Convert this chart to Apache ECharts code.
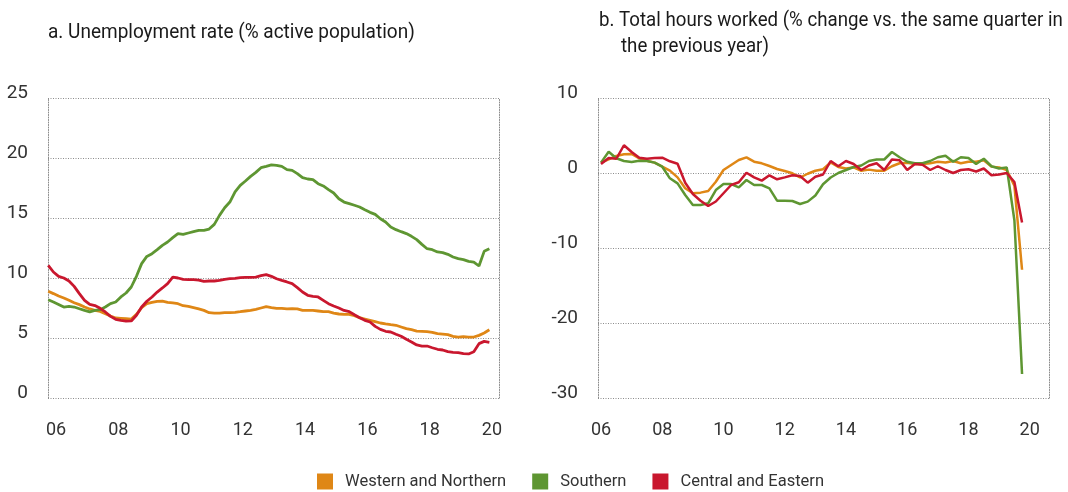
<!DOCTYPE html>
<html>
<head>
<meta charset="utf-8">
<title>Unemployment and hours worked</title>
<script src="https://cdn.jsdelivr.net/npm/echarts@6/dist/echarts.min.js"></script>
<style>
  html, body { margin: 0; padding: 0; background: #fff; }
  #chart { width: 1068px; height: 492px; }
</style>
</head>
<body>
<div id="chart"></div>
<script>
// series names
const seriesNames = ['Western and Northern', 'Southern', 'Central and Eastern']
const colors = ['#DF8716', '#5E9632', '#C9172E']

// a. unemployment rate, one reading every 2 months starting Oct 2005
const unempStart = 2005.75
const unempStep = 1 / 6
const unempWestNorth = [
  8.89, 8.7, 8.5, 8.33, 8.14, 7.94, 7.78, 7.58, 7.42, 7.3, 7.22, 7.03, 6.83, 6.67, 6.64,
  6.61, 6.58, 6.97, 7.53, 7.86, 7.97, 8.06, 8.08, 7.97, 7.92, 7.86, 7.69, 7.64, 7.53, 7.42,
  7.3, 7.11, 7.08, 7.08, 7.11, 7.11, 7.14, 7.19, 7.25, 7.3, 7.39, 7.5, 7.61, 7.53, 7.47,
  7.47, 7.42, 7.44, 7.42, 7.3, 7.3, 7.3, 7.25, 7.19, 7.19, 7.08, 7.0, 6.97, 6.97,
  6.86, 6.69, 6.58, 6.47, 6.36, 6.25, 6.17, 6.11, 6.06, 5.92, 5.78, 5.69, 5.58, 5.56,
  5.53, 5.47, 5.36, 5.33, 5.28, 5.14, 5.08, 5.11, 5.08, 5.08, 5.22, 5.42, 5.69
]
const unempSouth = [
  8.19, 8.0, 7.8, 7.58, 7.64, 7.58, 7.44, 7.3, 7.17, 7.3, 7.36, 7.58, 7.86, 8.0, 8.42,
  8.75, 9.25, 10.14, 11.2, 11.8, 12.03, 12.36, 12.72, 13.0, 13.36, 13.7, 13.64, 13.75, 13.86, 13.97,
  13.97, 14.08, 14.47, 15.22, 15.86, 16.33, 17.17, 17.72, 18.08, 18.47, 18.8, 19.19, 19.3, 19.42, 19.39,
  19.3, 19.03, 18.97, 18.7, 18.36, 18.25, 18.2, 17.86, 17.67, 17.36, 17.08, 16.6, 16.33, 16.2,
  16.06, 15.92, 15.69, 15.47, 15.3, 14.94, 14.67, 14.25, 14.03, 13.86, 13.7, 13.47, 13.2, 12.8,
  12.44, 12.36, 12.17, 12.11, 11.97, 11.75, 11.61, 11.53, 11.39, 11.33, 11.0, 12.22, 12.44
]
const unempCentralEast = [
  11.06, 10.5, 10.14, 10.0, 9.75, 9.3, 8.7, 8.14, 7.8, 7.7, 7.47, 7.17, 6.8, 6.56, 6.47,
  6.4, 6.42, 6.9, 7.58, 8.06, 8.42, 8.83, 9.17, 9.53, 10.08, 10.0, 9.89, 9.86, 9.86, 9.83,
  9.72, 9.75, 9.75, 9.8, 9.89, 9.94, 9.97, 10.03, 10.06, 10.06, 10.08, 10.19, 10.28, 10.14, 9.94,
  9.8, 9.67, 9.53, 9.2, 8.83, 8.56, 8.47, 8.42, 8.14, 7.86, 7.67, 7.5, 7.3, 7.2,
  6.94, 6.69, 6.47, 6.33, 5.97, 5.72, 5.56, 5.5, 5.31, 5.14, 4.89, 4.67, 4.42, 4.33,
  4.33, 4.19, 4.06, 4.0, 3.86, 3.81, 3.78, 3.69, 3.67, 3.86, 4.53, 4.72, 4.64
]

// b. total hours worked, quarterly
const hoursStart = 2006
const hoursStep = 0.25
const hoursWestNorth = [
  1.38, 1.82, 2.27, 2.49, 2.53, 1.96, 1.64, 1.38, 0.84, 0.31, -0.58, -2.04, -2.71, -2.62, -2.4,
  -1.16, 0.4, 1.07, 1.73, 2.09, 1.51, 1.29, 0.93, 0.53, 0.27, -0.04, -0.6, -0.1, 0.3,
  0.5, 1.4, 0.8, 0.6, 0.75, 0.3, 0.45, 0.3, 0.3, 0.9, 1.3, 1.35, 1.2, 1.2, 1.3,
  1.5, 1.4, 1.6, 1.3, 1.5, 1.5, 1.7, 0.85, 0.75, 0.4, -1.7, -12.9
]
const hoursSouth = [
  1.38, 2.84, 1.96, 1.6, 1.47, 1.64, 1.6, 1.38, 0.84, -0.71, -1.38, -2.93, -4.27, -4.27, -4.04,
  -2.27, -1.47, -1.47, -1.91, -0.93, -1.6, -1.6, -2.04, -3.69, -3.69, -3.73, -4.13, -3.82, -3.0,
  -1.5, -0.6, 0.0, 0.4, 0.8, 1.0, 1.6, 1.8, 1.8, 2.8, 2.1, 1.5, 1.3, 1.3, 1.6,
  2.1, 2.3, 1.5, 2.1, 2.0, 1.2, 1.9, 0.9, 0.6, 0.75, -6.3, -26.8
]
const hoursCentralEast = [
  1.2, 2.0, 1.9, 3.7, 2.8, 2.04, 1.9, 2.0, 2.04, 1.56, 1.24, -1.3, -2.8, -3.7, -4.4,
  -3.8, -2.7, -1.6, -1.24, 0.04, -0.58, -1.02, -0.31, -0.84, -0.58, -0.31, -0.4, -1.29, -0.49,
  -0.2, 1.6, 0.9, 1.6, 1.2, 0.4, 1.0, 1.3, 0.4, 1.8, 1.7, 0.4, 1.2, 1.1, 0.4,
  0.9, 0.4, 0.0, 0.4, 0.5, 0.2, 0.6, -0.3, -0.2, 0.0, -1.2, -6.6
]

// tick labels
const yearTicks = [2006, 2008, 2010, 2012, 2014, 2016, 2018, 2020]

const FONT = 'Roboto, sans-serif'
const gridDots = { color: '#8c8c8c', width: 1, type: [1, 1.5] }

// pair each reading with its date
const toPoints = (values, start, step) => values.map((v, i) => [start + i * step, v])

const xAxisFor = (gridIndex, min, max) => ({
  type: 'value',
  gridIndex: gridIndex,
  min: min,
  max: max,
  axisLine: { show: false },
  axisTick: { show: false },
  splitLine: { show: false },
  axisLabel: {
    customValues: yearTicks,
    formatter: v => String(Math.round(v)).slice(2),
    margin: 23,
    color: '#333',
    fontFamily: FONT,
    fontSize: 18
  }
})

const yAxisFor = (gridIndex, min, max, interval) => ({
  type: 'value',
  gridIndex: gridIndex,
  min: min,
  max: max,
  interval: interval,
  axisLine: { show: true, lineStyle: gridDots },
  axisTick: { show: false },
  splitLine: { show: true, lineStyle: gridDots },
  axisLabel: {
    margin: 20,
    color: '#333',
    fontFamily: FONT,
    fontSize: 19,
    verticalAlign: 'bottom',
    lineHeight: 10
  }
})

// dotted right-hand frame
const frameFor = (gridIndex, min, max) => ({
  type: 'value',
  gridIndex: gridIndex,
  position: 'right',
  min: min,
  max: max,
  axisLine: { show: true, lineStyle: gridDots },
  axisTick: { show: false },
  axisLabel: { show: false },
  splitLine: { show: false }
})

const lineSeries = (name, color, data, axisIndex, width) => ({
  name: name,
  type: 'line',
  xAxisIndex: axisIndex,
  yAxisIndex: axisIndex,
  data: data,
  showSymbol: false,
  smooth: false,
  color: color,
  lineStyle: { color: color, width: width },
  z: 3
})

// panel titles, squeezed a little to look like the condensed original face
const titleText = (text, x, y, sx) => ({
  type: 'text',
  x: x,
  y: y,
  scaleX: sx,
  style: {
    text: text,
    fontFamily: FONT,
    fontSize: 21,
    fill: '#1a1a1a',
    verticalAlign: 'middle'
  }
})

const chart = echarts.init(document.getElementById('chart'))

const option = {
  animation: false,
  textStyle: { fontFamily: FONT },
  graphic: [
    titleText('a. Unemployment rate (% active population)', 48, 33, 0.905),
    titleText('b. Total hours worked (% change vs. the same quarter in', 599, 21, 0.89),
    titleText('the previous year)', 621, 47, 0.89)
  ],
  legend: {
    data: seriesNames,
    left: 317,
    top: 473,
    padding: 0,
    icon: 'rect',
    itemWidth: 16,
    itemHeight: 16,
    itemGap: 26,
    textStyle: { fontFamily: FONT, fontSize: 16.5, color: '#333', padding: [0, 0, 0, 7] }
  },
  grid: [
    { left: 48, top: 98, width: 451, height: 300 },
    { left: 598, top: 98, width: 451, height: 300 }
  ],
  xAxis: [
    xAxisFor(0, 2005.743, 2020.226),
    xAxisFor(1, 2005.902, 2020.63)
  ],
  yAxis: [
    yAxisFor(0, 0, 25, 5),
    yAxisFor(1, -30, 10, 10),
    frameFor(0, 0, 25),
    frameFor(1, -30, 10)
  ],
  series: [
    lineSeries(seriesNames[0], colors[0], toPoints(unempWestNorth, unempStart, unempStep), 0, 2.8),
    lineSeries(seriesNames[1], colors[1], toPoints(unempSouth, unempStart, unempStep), 0, 2.8),
    lineSeries(seriesNames[2], colors[2], toPoints(unempCentralEast, unempStart, unempStep), 0, 2.8),
    lineSeries(seriesNames[0], colors[0], toPoints(hoursWestNorth, hoursStart, hoursStep), 1, 2.5),
    lineSeries(seriesNames[1], colors[1], toPoints(hoursSouth, hoursStart, hoursStep), 1, 2.5),
    lineSeries(seriesNames[2], colors[2], toPoints(hoursCentralEast, hoursStart, hoursStep), 1, 2.5)
  ]
}

chart.setOption(option)
</script>
</body>
</html>
